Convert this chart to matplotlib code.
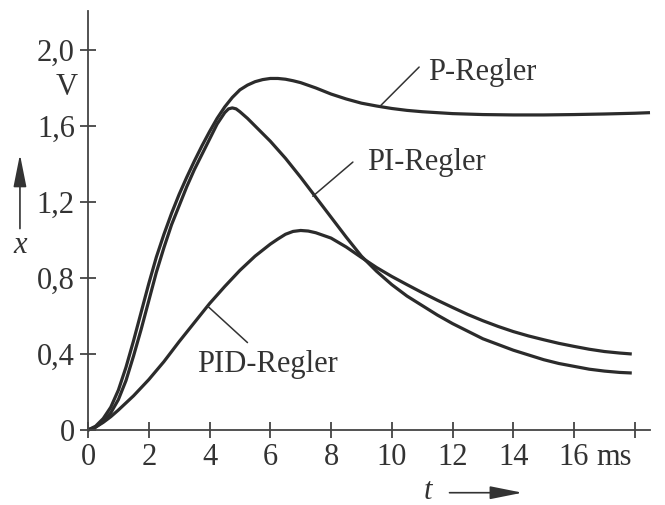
import matplotlib
matplotlib.use("Agg")
import matplotlib.pyplot as plt

# ---- data ----
t_p = [0, 0.25, 0.5, 0.75, 1, 1.25, 1.5, 1.75, 2, 2.25, 2.5, 2.75, 3, 3.25, 3.5, 3.75,
       4, 4.25, 4.5, 4.75, 5, 5.25, 5.5, 5.75, 6, 6.25, 6.5, 6.75, 7, 7.5, 8, 8.5, 9,
       9.5, 10, 10.5, 11, 12, 13, 14, 15, 16, 17, 18, 18.5]
x_p = [0, 0.02, 0.06, 0.12, 0.21, 0.33, 0.47, 0.62, 0.77, 0.91, 1.03, 1.14, 1.24, 1.33,
       1.415, 1.495, 1.57, 1.64, 1.70, 1.75, 1.79, 1.815, 1.833, 1.844, 1.85, 1.85, 1.846,
       1.838, 1.828, 1.80, 1.768, 1.742, 1.72, 1.705, 1.692, 1.682, 1.675, 1.665, 1.66,
       1.658, 1.658, 1.66, 1.663, 1.667, 1.67]

t_pi = [0, 0.25, 0.5, 0.75, 1, 1.25, 1.5, 1.75, 2, 2.25, 2.5, 2.75, 3, 3.25, 3.5, 3.75,
        4, 4.25, 4.5, 4.625, 4.75, 4.875, 5, 5.25, 5.5, 5.75, 6, 6.5, 7, 7.5, 8, 8.5, 9,
        9.5, 10, 10.5, 11, 11.5, 12, 12.5, 13, 13.5, 14, 14.5, 15, 15.5, 16, 16.5, 17,
        17.5, 17.9]
x_pi = [0, 0.015, 0.045, 0.09, 0.16, 0.26, 0.39, 0.53, 0.68, 0.83, 0.96, 1.08, 1.18,
        1.28, 1.37, 1.45, 1.53, 1.61, 1.67, 1.69, 1.695, 1.69, 1.675, 1.64, 1.60, 1.56,
        1.52, 1.43, 1.33, 1.225, 1.12, 1.015, 0.915, 0.835, 0.765, 0.705, 0.655, 0.605,
        0.56, 0.52, 0.48, 0.45, 0.42, 0.395, 0.37, 0.35, 0.335, 0.32, 0.31, 0.303, 0.30]

t_pid = [0, 0.25, 0.5, 0.75, 1, 1.5, 2, 2.5, 3, 3.5, 4, 4.5, 5, 5.5, 6, 6.25, 6.5, 6.75,
         7, 7.25, 7.5, 8, 8.5, 9, 9.5, 10, 10.5, 11, 11.5, 12, 12.5, 13, 13.5, 14, 14.5,
         15, 15.5, 16, 16.5, 17, 17.5, 17.9]
x_pid = [0, 0.015, 0.04, 0.07, 0.105, 0.18, 0.265, 0.36, 0.465, 0.565, 0.665, 0.755,
         0.84, 0.915, 0.978, 1.005, 1.03, 1.045, 1.05, 1.047, 1.038, 1.01, 0.963, 0.908,
         0.855, 0.808, 0.765, 0.723, 0.683, 0.645, 0.608, 0.575, 0.545, 0.518, 0.495,
         0.475, 0.456, 0.44, 0.425, 0.413, 0.405, 0.40]

xticks = [0, 2, 4, 6, 8, 10, 12, 14, 16, 18]
xticklabels = ["0", "2", "4", "6", "8", "10", "12", "14", "16", ""]
yticks = [0, 0.4, 0.8, 1.2, 1.6, 2.0]
yticklabels = ["0", "0,4", "0,8", "1,2", "1,6", "2,0"]

labels = ["P-Regler", "PI-Regler", "PID-Regler"]

# ---- style ----
plt.rcParams["font.family"] = ["Liberation Serif", "DejaVu Serif"]
ink = "#2b2b2b"
txt = "#333333"
fs = 22

fig = plt.figure(figsize=(6.65, 5.05), dpi=100)
ax = fig.add_axes([88 / 665, 75 / 505, 562 / 665, 419 / 505])
ax.set_xlim(0, 18.5)
ax.set_ylim(0, 2.205)

for tt, xx in [(t_p, x_p), (t_pi, x_pi), (t_pid, x_pid)]:
    ax.plot(tt, xx, color=ink, lw=2.3, solid_capstyle="butt", solid_joinstyle="round",
            clip_on=False)

for s in ["top", "right"]:
    ax.spines[s].set_visible(False)
for s in ["left", "bottom"]:
    ax.spines[s].set_color("#444444")
    ax.spines[s].set_linewidth(1.3)

ax.set_xticks(xticks)
ax.set_xticklabels(xticklabels)
ax.set_yticks(yticks)
ax.set_yticklabels(yticklabels)
ax.tick_params(direction="inout", length=11, width=1.3, color="#444444",
               labelsize=fs, labelcolor=txt)
ax.tick_params(axis="x", pad=4)
ax.tick_params(axis="y", pad=4)

# unit texts ("ms" aligned with the x tick labels)
ax.text(16.75, -(5.5 + 4) * (100 / 72) / 190, "ms", fontsize=fs, color=txt,
        ha="left", va="top", clip_on=False)
ax.text(-0.69, 1.80, "V", fontsize=fs, color=txt, ha="center", va="center", clip_on=False)

# axis symbols with arrows
ax.text(-2.24, 0.97, "x", fontsize=fs, style="italic", color=txt, ha="center",
        va="center", clip_on=False)
ax.annotate("", xy=(-2.24, 1.45), xytext=(-2.24, 1.06), annotation_clip=False,
            arrowprops=dict(arrowstyle="-|>,head_length=2.0,head_width=0.4", lw=1.2,
                            color="#333333", mutation_scale=10, shrinkA=0, shrinkB=0))
ax.text(11.18, -0.325, "t", fontsize=fs, style="italic", color=txt, ha="center",
        va="center", clip_on=False)
ax.annotate("", xy=(14.3, -0.33), xytext=(11.9, -0.33), annotation_clip=False,
            arrowprops=dict(arrowstyle="-|>,head_length=2.0,head_width=0.4", lw=1.2,
                            color="#333333", mutation_scale=10, shrinkA=0, shrinkB=0))

# curve labels with leader lines
lab_pos = [(11.2, 1.88), (9.18, 1.41), (3.6, 0.345)]
lead_from = [(10.9, 1.91), (8.72, 1.41), (3.95, 0.65)]
lead_to = [(9.62, 1.705), (7.4, 1.23), (5.25, 0.46)]
for lab, (lx, ly), a, b in zip(labels, lab_pos, lead_from, lead_to):
    ax.text(lx, ly, lab, fontsize=fs, color=txt, ha="left", va="center")
    ax.annotate("", xy=b, xytext=a,
                arrowprops=dict(arrowstyle="-", lw=1.1, color="#333333",
                                shrinkA=0, shrinkB=0))

fig.savefig("out.png", dpi=100)
